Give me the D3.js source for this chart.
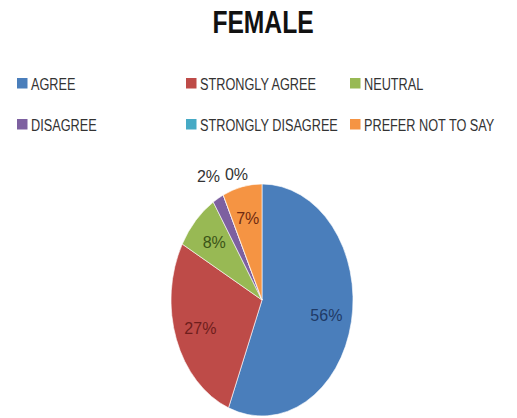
<!DOCTYPE html>
<html>
<head>
<meta charset="utf-8">
<script src="https://cdn.jsdelivr.net/npm/d3@7"></script>
<style>
  body { margin: 0; background: #fff; }
  svg { display: block; }
</style>
</head>
<body>
<div id="viz"></div>
<script>
// survey answers, female respondents
var categories = ['AGREE', 'STRONGLY AGREE', 'NEUTRAL', 'DISAGREE', 'STRONGLY DISAGREE', 'PREFER NOT TO SAY'];
var values = [56, 27, 8, 2, 0, 7];
var sliceColors = ['#4a7ebb', '#be4b48', '#98b954', '#7d60a0', '#46aac5', '#f59443'];
var labelColors = ['#1f3a66', '#6e1e1c', '#3b5418', '#333333', '#333333', '#6e2a12'];
var title = 'FEMALE';

var width = 517, height = 418;
var cx = 262, cy = 300, rx = 91, ry = 116;

var svg = d3.select('#viz').append('svg')
  .attr('width', width)
  .attr('height', height);

// no narrow font installed, so Liberation Sans gets squeezed
svg.append('text')
  .attr('transform', 'translate(263,33) scale(0.77,1)')
  .attr('text-anchor', 'middle')
  .style('font-family', '"Liberation Sans", sans-serif')
  .style('font-weight', 'bold')
  .style('font-size', '32px')
  .attr('fill', '#111')
  .text(title);

// legend, 3 columns x 2 rows
var colX = [17, 186, 350], rowY = [78, 119];
var legend = svg.append('g').selectAll('g')
  .data(categories)
  .enter().append('g')
  .attr('transform', function(d, i) {
    return 'translate(' + colX[i % 3] + ',' + rowY[Math.floor(i / 3)] + ')';
  });
legend.append('rect')
  .attr('width', 10.5)
  .attr('height', 10.5)
  .attr('fill', function(d, i) { return sliceColors[i]; });
legend.append('text')
  .attr('transform', 'translate(14,11.5) scale(0.77,1)')
  .style('font-family', '"Liberation Sans", sans-serif')
  .style('font-size', '16.5px')
  .attr('fill', '#333')
  .text(function(d) { return d; });

// pie (stretched into an ellipse like the original)
var pie = d3.pie().sort(null).value(function(d) { return d; });
var arcs = pie(values);
var arc = d3.arc().innerRadius(0).outerRadius(ry);

var pieG = svg.append('g')
  .attr('transform', 'translate(' + cx + ',' + cy + ') scale(' + (rx / ry) + ',1)');
pieG.selectAll('path')
  .data(arcs)
  .enter().append('path')
  .attr('d', arc)
  .attr('fill', function(d, i) { return sliceColors[i]; })
  .attr('stroke', '#fff')
  .attr('stroke-width', 0.6)
  .attr('vector-effect', 'non-scaling-stroke');

// labels: inside for big slices, outside (pushed apart) for small ones
var lastOut = null;
var labelData = arcs.map(function(a, i) {
  var mid = (a.startAngle + a.endAngle) / 2;
  var inside = values[i] >= 5;
  var k = inside ? 0.72 : 1.22;
  var x = cx + Math.sin(mid) * rx * k;
  var y = cy - Math.cos(mid) * ry * k;
  if (!inside) {
    if (lastOut && x < lastOut.x + 28) { x = lastOut.x + 28; y = lastOut.y - 2; }
    lastOut = { x: x, y: y };
  }
  return { x: x, y: y, text: values[i] + '%', color: labelColors[i] };
});

svg.append('g').selectAll('text')
  .data(labelData)
  .enter().append('text')
  .attr('x', function(d) { return d.x; })
  .attr('y', function(d) { return d.y; })
  .attr('dy', '0.35em')
  .attr('text-anchor', 'middle')
  .style('font-family', '"Liberation Sans", sans-serif')
  .style('font-size', '16px')
  .attr('fill', function(d) { return d.color; })
  .text(function(d) { return d.text; });
</script>
</body>
</html>
